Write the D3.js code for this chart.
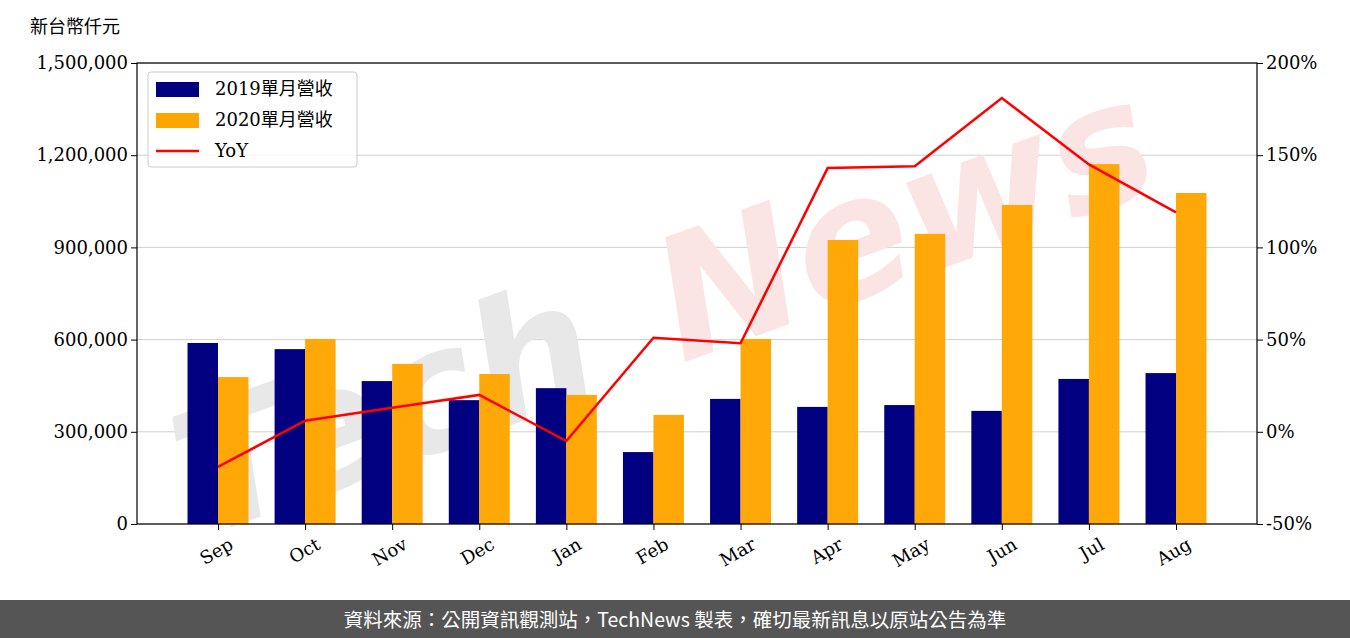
<!DOCTYPE html><html><head><meta charset="utf-8">
<script src="https://cdn.jsdelivr.net/npm/d3@7"></script>
<style>body{margin:0;background:#fff}svg{display:block}</style></head><body>
<svg id="c" width="1350" height="638"></svg>
<script>
const categories=["Sep","Oct","Nov","Dec","Jan","Feb","Mar","Apr","May","Jun","Jul","Aug"];
const rev2019=[589000,569000,465000,403000,442000,234000,407000,381000,387000,368000,472000,491000];
const rev2020=[478000,602000,521000,488000,420000,355000,602000,924000,944000,1038000,1171000,1077000];
const yoy=[-19,6,13,20,-5,51,48,143,144,181,145,119];
const leftTicks=[0,300000,600000,900000,1200000,1500000];
const rightTicks=[-50,0,50,100,150,200];
const svg=d3.select("#c");
const L=137,R=1257,T=63,B=524;
const x=d3.scaleLinear().domain([-0.93,11.93]).range([L,R]);
const y=d3.scaleLinear().domain([0,1500000]).range([B,T]);
const y2=d3.scaleLinear().domain([-50,200]).range([B,T]);
const serif="'DejaVu Serif',serif", cjk="'Noto Sans CJK TC',sans-serif";
svg.append("g").selectAll("line").data(leftTicks).join("line").attr("x1",L).attr("x2",R)
 .attr("y1",d=>y(d)).attr("y2",d=>y(d)).attr("stroke","#d0d0d0").attr("stroke-width",1);
const wm=svg.append("g").attr("transform","translate(680,300) rotate(-20)").attr("font-family","'DejaVu Sans',sans-serif").attr("font-style","italic").attr("font-size",170).attr("font-weight","bold");
wm.append("text").attr("x",-530).attr("y",60).attr("fill","#e8e8e8").text("Tech");
wm.append("text").attr("x",-20).attr("y",60).attr("fill","#fbe4e4").text("News");
const bw=0.35;
svg.append("g").selectAll("rect").data(rev2019).join("rect").attr("x",(d,i)=>x(i-bw)).attr("width",x(bw)-x(0))
 .attr("y",d=>y(d)).attr("height",d=>B-y(d)).attr("fill","#000080");
svg.append("g").selectAll("rect").data(rev2020).join("rect").attr("x",(d,i)=>x(i)).attr("width",x(bw)-x(0))
 .attr("y",d=>y(d)).attr("height",d=>B-y(d)).attr("fill","#ffa500").attr("opacity",0.97);
svg.append("path").datum(yoy).attr("d",d3.line().x((d,i)=>x(i)).y(d=>y2(d))).attr("fill","none").attr("stroke","#ff0000").attr("stroke-width",2.5);
svg.append("rect").attr("x",L).attr("y",T).attr("width",R-L).attr("height",B-T).attr("fill","none").attr("stroke","#000").attr("stroke-width",1.2);
const ga=svg.append("g").attr("transform",`translate(${L},0)`).call(d3.axisLeft(y).tickValues(leftTicks).tickFormat(d3.format(",")).tickSizeOuter(0));
const gb=svg.append("g").attr("transform",`translate(${R},0)`).call(d3.axisRight(y2).tickValues(rightTicks).tickFormat(d=>d+"%").tickSizeOuter(0));
const gx=svg.append("g").attr("transform",`translate(0,${B})`).call(d3.axisBottom(x).tickValues(d3.range(12)).tickFormat(i=>categories[i]).tickSizeOuter(0));
[ga,gb,gx].forEach(g=>{g.select(".domain").remove();g.selectAll("text").attr("font-family",serif).attr("font-size",18).attr("fill","#000");});
gx.selectAll("text").attr("transform","rotate(-30)").attr("text-anchor","end").attr("dx","0.1em").attr("dy","1.1em");
svg.append("text").attr("x",30).attr("y",33).attr("font-family",cjk).attr("font-size",18).text("新台幣仟元");
const lg=svg.append("g").attr("transform","translate(148,72)");
lg.append("rect").attr("width",209).attr("height",95).attr("rx",3).attr("fill","#fff").attr("fill-opacity",0.8).attr("stroke","#ccc");
const items=[["2019單月營收","#000080","r"],["2020單月營收","#ffa500","r"],["YoY","#ff0000","l"]];
items.forEach((it,i)=>{const yy=17+i*31;
 if(it[2]=="r")lg.append("rect").attr("x",8).attr("y",yy-7).attr("width",43).attr("height",15).attr("fill",it[1]);
 else lg.append("line").attr("x1",8).attr("x2",51).attr("y1",yy).attr("y2",yy).attr("stroke",it[1]).attr("stroke-width",2.5);
 lg.append("text").attr("x",67).attr("y",yy+6).attr("font-family",serif+","+cjk).attr("font-size",18).text(it[0]);});
svg.append("rect").attr("x",0).attr("y",600).attr("width",1350).attr("height",38).attr("fill","#555");
svg.append("text").attr("x",675).attr("y",627).attr("text-anchor","middle").attr("fill","#fff").attr("font-family",cjk).attr("font-size",19.5).text("資料來源：公開資訊觀測站，TechNews 製表，確切最新訊息以原站公告為準");
</script></body></html>
